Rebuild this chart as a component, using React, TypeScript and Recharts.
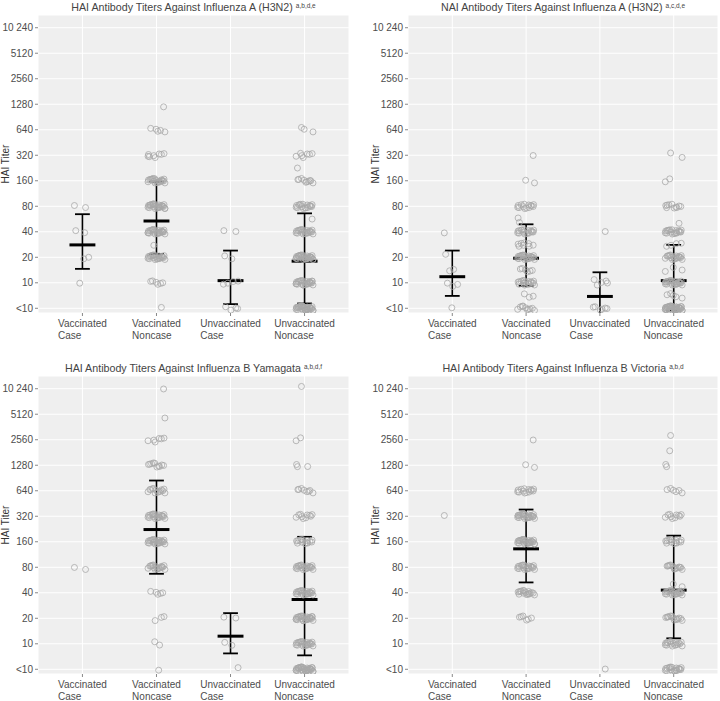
import React from 'react'
import { ScatterChart, Scatter, XAxis, YAxis, CartesianGrid, ReferenceLine } from 'recharts'

// group names along the x axis (line break = second line of the tick)
const groups = ['Vaccinated\nCase', 'Vaccinated\nNoncase', 'Unvaccinated\nCase', 'Unvaccinated\nNoncase']

// titer levels; <10 is drawn at 5
const yTicks = [5, 10, 20, 40, 80, 160, 320, 640, 1280, 2560, 5120, 10240]
const yTickLabels = ['<10', '10', '20', '40', '80', '160', '320', '640', '1280', '2560', '5120', '10\u00a0240']

// [titer, number of subjects] per group
const h3HaiCounts = [
  [[80, 2], [40, 2], [20, 2], [10, 1]],
  [[1200, 1], [640, 5], [320, 8], [160, 22], [80, 28], [40, 28], [28, 1], [20, 24], [10, 6], [5, 1]],
  [[40, 2], [20, 2], [10, 4], [5, 4]],
  [[640, 3], [320, 7], [235, 1], [160, 10], [80, 18], [54, 1], [40, 24], [20, 32], [10, 28], [5, 36]],
]
const h3HaiMean = [28, 53.6, 10.6, 18]
const h3HaiLow = [14.6, 21.9, 5.6, 5.7]
const h3HaiHigh = [64.5, 156, 24, 66]

const h3NaiCounts = [
  [[38, 1], [21, 1], [15, 1], [14, 1], [9.5, 3], [5, 1]],
  [[320, 1], [160, 2], [80, 14], [57, 1], [50, 1], [40, 18], [28, 8], [20, 24], [14, 6], [10, 18], [7, 3], [5, 10]],
  [[40, 1], [10.5, 3], [9.5, 2], [5, 6]],
  [[320, 2], [160, 2], [80, 10], [50, 1], [40, 20], [28, 4], [20, 20], [15, 2], [14, 1], [10, 26], [7, 5], [5, 45]],
]
const h3NaiMean = [11.8, 19.5, 6.9, 10.6]
const h3NaiLow = [7, 9.2, 3.9, 4.7]
const h3NaiHigh = [24, 49, 13.3, 28]

const yamCounts = [
  [[78, 2]],
  [[10240, 1], [4900, 1], [2560, 6], [1280, 10], [640, 14], [320, 22], [160, 26], [80, 18], [40, 5], [20, 3], [10, 2], [5, 1]],
  [[20, 2], [10, 2], [5, 1]],
  [[10240, 1], [2560, 2], [1280, 3], [640, 8], [320, 10], [160, 14], [80, 22], [40, 24], [20, 28], [10, 24], [5, 38]],
]
const yamMean = [null, 223, 12.3, 33.3]
const yamLow = [null, 67, 7.7, 7.3]
const yamHigh = [null, 845, 23, 183]

const vicCounts = [
  [[320, 1]],
  [[2560, 1], [1280, 2], [640, 14], [320, 28], [160, 30], [80, 22], [40, 18], [20, 6]],
  [[5, 1]],
  [[2700, 1], [1800, 1], [1280, 2], [640, 6], [320, 10], [160, 14], [80, 14], [50, 2], [40, 24], [20, 14], [10, 18], [5, 20]],
]
const vicMean = [null, 132, null, 43]
const vicLow = [null, 53, null, 11.6]
const vicHigh = [null, 384, null, 189]

// fixed jitter pattern (fraction of the jitter width)
const jitterX = [-0.9, 0.35, -0.2, 0.8, -0.55, 0.05, 0.6, -0.75, 0.25, -0.35, 0.95, -0.05, 0.45, -0.65, 0.15, 0.7, -0.45, -0.95, 0.55, -0.15, 0.85, -0.3, 0.3, -0.8]
const jitterY = [0.3, -0.5, 0.8, -0.1, 0.6, -0.7, 0.1, 0.45, -0.35, 0.9, -0.85, 0.2, -0.25, 0.55, -0.6, 0.0, 0.75, -0.4, 0.35, -0.9, 0.65, -0.15, 0.5, -0.55]

const Y_MIN = 4.4
const Y_MAX = 14470
const FONT = '"Liberation Sans", Arial, sans-serif'

let ctx: CanvasRenderingContext2D | null = null
const textWidth = (s: string) => {
  if (!ctx) ctx = document.createElement('canvas').getContext('2d')
  if (!ctx) return s.length * 5
  ctx.font = `10px ${FONT}`
  return ctx.measureText(s).width
}

const toPoints = (counts: number[][][]) => {
  const pts: { x: number; y: number }[] = []
  counts.forEach((levels, g) => {
    levels.forEach(([titer, n], li) => {
      for (let i = 0; i < n; i++) {
        const k = (i + li * 7 + g * 3) % jitterX.length
        pts.push({ x: g + 1 + jitterX[k] * 0.12, y: titer * Math.pow(2, jitterY[k] * 0.1) })
      }
    })
  })
  return pts
}

const Dot = (props: any) => {
  const { cx, cy } = props
  if (cx == null || cy == null) return null
  return <circle cx={cx} cy={cy} r={3} fill="none" stroke="#a8a8a8" strokeWidth={0.8} />
}

const XTick = (props: any) => {
  const { x, y, payload } = props
  const lines = groups[payload.value - 1].split('\n')
  const w = Math.max(...lines.map(textWidth))
  return (
    <g>
      {lines.map((l, i) => (
        <text key={i} x={x - w / 2} y={y + 9 + i * 11.5} fontSize={10} fill="#4d4d4d" fontFamily={FONT}>
          {l}
        </text>
      ))}
    </g>
  )
}

type PanelProps = {
  title: string
  sup: string
  yLabel: string
  counts: number[][][]
  mean: (number | null)[]
  low: (number | null)[]
  high: (number | null)[]
  left: number
  top: number
  marginLeft: number
  marginRight: number
}

function Panel({ title, sup, yLabel, counts, mean, low, high, left, top, marginLeft, marginRight }: PanelProps) {
  const points = toPoints(counts)
  const plotLeft = marginLeft + 38
  const plotWidth = 360 - plotLeft - marginRight
  const bars: React.ReactNode[] = []
  mean.forEach((m, g) => {
    if (m == null) return
    const lo = low[g] as number
    const hi = high[g] as number
    const x = g + 1
    const line = { stroke: '#000', isAnimationActive: false }
    bars.push(
      <ReferenceLine key={`v${g}`} segment={[{ x, y: Math.max(lo, Y_MIN) }, { x, y: hi }]} {...line} strokeWidth={1.6} />,
      <ReferenceLine key={`l${g}`} segment={[{ x: x - 0.1, y: lo }, { x: x + 0.1, y: lo }]} {...line} strokeWidth={1.8} />,
      <ReferenceLine key={`h${g}`} segment={[{ x: x - 0.1, y: hi }, { x: x + 0.1, y: hi }]} {...line} strokeWidth={1.8} />,
      <ReferenceLine key={`m${g}`} segment={[{ x: x - 0.175, y: m }, { x: x + 0.175, y: m }]} {...line} strokeWidth={3} />
    )
  })
  return (
    <div style={{ position: 'absolute', left, top, width: 360, height: 340 }}>
      <div
        style={{
          position: 'absolute',
          left: plotLeft,
          width: plotWidth,
          top: 0,
          textAlign: 'center',
          fontFamily: FONT,
          fontSize: 10.7,
          lineHeight: '12px',
          color: '#444',
          whiteSpace: 'nowrap',
        }}
      >
        {title}
        <span style={{ fontSize: 6.5, verticalAlign: 3, marginLeft: 3 }}>{sup}</span>
      </div>
      <ScatterChart width={360} height={340} margin={{ top: 15, right: marginRight, bottom: 0, left: marginLeft }}>
        <CartesianGrid fill="#efefef" stroke="#ffffff" strokeWidth={1} />
        <XAxis
          type="number"
          dataKey="x"
          domain={[0.4, 4.6]}
          ticks={[1, 2, 3, 4]}
          height={27}
          axisLine={false}
          tickLine={{ stroke: '#888' }}
          tickSize={3}
          tick={<XTick />}
          interval={0}
        />
        <YAxis
          type="number"
          dataKey="y"
          scale="log"
          domain={[Y_MIN, Y_MAX]}
          allowDataOverflow
          ticks={yTicks}
          interval={0}
          width={38}
          axisLine={false}
          tickLine={{ stroke: '#888' }}
          tickSize={3}
          tickMargin={2}
          tick={{ fontSize: 10, fill: '#4d4d4d', fontFamily: FONT }}
          tickFormatter={(v: number) => yTickLabels[yTicks.indexOf(v)] ?? ''}
          label={(p: any) => {
            const vb = p.viewBox
            const cx = vb.x + 5
            const cy = vb.y + vb.height / 2
            return (
              <text x={cx} y={cy} transform={`rotate(-90 ${cx} ${cy})`} textAnchor="middle" dominantBaseline="central" fontSize={10} fill="#333" fontFamily={FONT}>
                {yLabel}
              </text>
            )
          }}
        />
        <Scatter data={points} shape={<Dot />} isAnimationActive={false} />
        {bars}
      </ScatterChart>
    </div>
  )
}

export default function App() {
  return (
    <div style={{ position: 'absolute', left: 0, top: 0, width: 720, height: 701, background: '#fff' }}>
      <Panel title="HAI Antibody Titers Against Influenza A (H3N2)" sup="a,b,d,e" yLabel="HAI Titer"
        counts={h3HaiCounts} mean={h3HaiMean} low={h3HaiLow} high={h3HaiHigh}
        left={0} top={0} marginLeft={0} marginRight={11} />
      <Panel title="NAI Antibody Titers Against Influenza A (H3N2)" sup="a,c,d,e" yLabel="NAI Titer"
        counts={h3NaiCounts} mean={h3NaiMean} low={h3NaiLow} high={h3NaiHigh}
        left={360} top={0} marginLeft={10} marginRight={2} />
      <Panel title="HAI Antibody Titers Against Influenza B Yamagata" sup="a,b,d,f" yLabel="HAI Titer"
        counts={yamCounts} mean={yamMean} low={yamLow} high={yamHigh}
        left={0} top={361} marginLeft={0} marginRight={11} />
      <Panel title="HAI Antibody Titers Against Influenza B Victoria" sup="a,b,d" yLabel="HAI Titer"
        counts={vicCounts} mean={vicMean} low={vicLow} high={vicHigh}
        left={360} top={361} marginLeft={10} marginRight={2} />
    </div>
  )
}
